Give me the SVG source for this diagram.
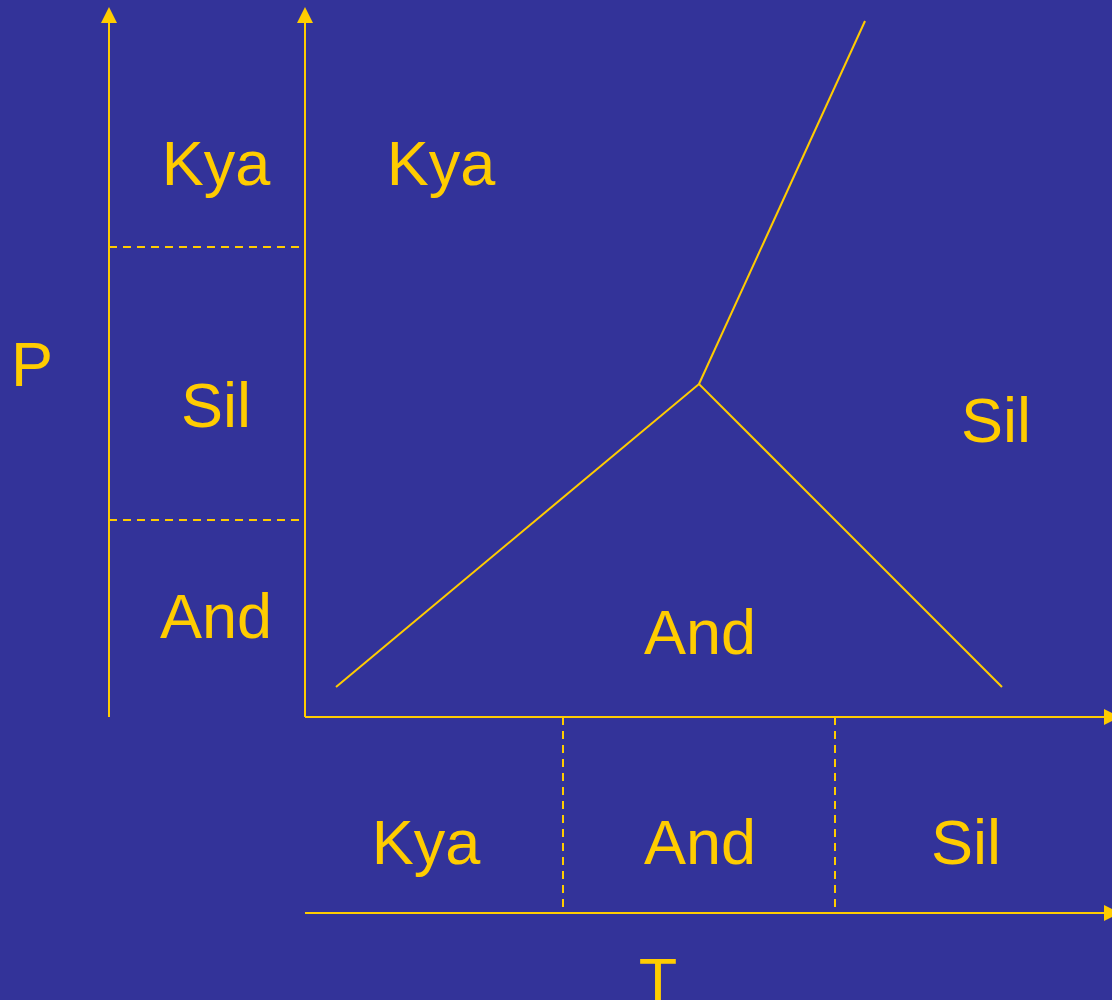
<svg xmlns="http://www.w3.org/2000/svg" width="1112" height="1000" viewBox="0 0 1112 1000">
<defs>
<style>
.ln{stroke:#FFCC00;stroke-width:2;fill:none}
.ds{stroke:#FFCC00;stroke-width:2;fill:none;stroke-dasharray:8 6}
.t{fill:#FFCC00;font-family:"Liberation Sans",Arial,sans-serif;font-size:63px;text-anchor:middle}
</style>
<marker id="ah" viewBox="0 0 16 16" refX="1" refY="8" markerWidth="16" markerHeight="16" markerUnits="userSpaceOnUse" orient="auto">
<path d="M0,0 L16,8 L0,16 Z" fill="#FFCC00"/>
</marker>
</defs>
<rect width="1112" height="1000" fill="#333399"/>
<g id="connectors">
<line class="ln" x1="109" y1="717" x2="109" y2="22" marker-end="url(#ah)"/>
<line class="ln" x1="305" y1="717" x2="305" y2="22" marker-end="url(#ah)"/>
<line class="ln" x1="305" y1="717" x2="1105" y2="717" marker-end="url(#ah)"/>
<line class="ln" x1="305" y1="913" x2="1105" y2="913" marker-end="url(#ah)"/>
<line class="ds" x1="109" y1="247" x2="305" y2="247"/>
<line class="ds" x1="109" y1="520" x2="305" y2="520"/>
<line class="ds" x1="563" y1="717" x2="563" y2="913"/>
<line class="ds" x1="835" y1="717" x2="835" y2="913"/>
<polyline class="ln" points="336,687 699,384 1002,687"/>
<line class="ln" x1="699" y1="384" x2="865" y2="21"/>
</g>
<g id="labels">
<text class="t" x="216" y="185">Kya</text>
<text class="t" x="216" y="427">Sil</text>
<text class="t" x="216" y="638">And</text>
<text class="t" x="441" y="185">Kya</text>
<text class="t" x="996" y="442">Sil</text>
<text class="t" x="700" y="654">And</text>
<text class="t" x="426" y="864">Kya</text>
<text class="t" x="700" y="864">And</text>
<text class="t" x="966" y="864">Sil</text>
<text class="t" x="32" y="386">P</text>
<text class="t" x="658" y="1002">T</text>
</g>
</svg>
